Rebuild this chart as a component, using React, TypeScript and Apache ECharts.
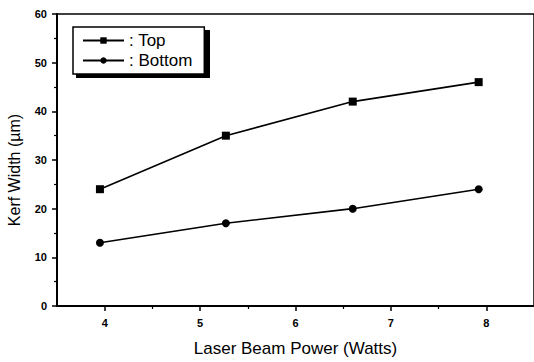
import React, { useEffect, useRef } from "react";
import * as echarts from "echarts";

const power = [3.95, 5.27, 6.6, 7.92];
const topWidth = [24, 35, 42, 46];
const bottomWidth = [13, 17, 20, 24];
const seriesNames = ["Top", "Bottom"];
const xMajorTicks = [4, 5, 6, 7, 8];
const xMinorTicks = [4.5, 5.5, 6.5, 7.5];
const xTitle = "Laser Beam Power (Watts)";
const yTitle = "Kerf Width (\u00b5m)";

const FONT = "Liberation Sans, Arial, Helvetica, sans-serif";

export default function App() {
  const ref = useRef<HTMLDivElement>(null);
  useEffect(() => {
    if (!ref.current) return;
    const chart = echarts.init(ref.current, null, { renderer: "svg" });
    const black = "#000";
    chart.setOption({
      animation: false,
      backgroundColor: "#fff",
      textStyle: { fontFamily: FONT },
      grid: {
        left: 57,
        top: 14,
        right: -4,
        bottom: 49,
        show: true,
        borderColor: black,
        borderWidth: 1.5,
        backgroundColor: "transparent",
      },
      legend: {
        orient: "vertical",
        left: 73,
        top: 27,
        z: 10,
        data: seriesNames,
        formatter: (n: string) => ": " + n,
        backgroundColor: "#fff",
        borderColor: black,
        borderWidth: 1.5,
        borderRadius: 0,
        padding: [5, 12, 5, 9],
        itemWidth: 41,
        itemHeight: 8,
        itemGap: 3,
        textStyle: { fontSize: 17, color: black, fontFamily: FONT },
      },
      graphic: [
        {
          type: "rect",
          z: 1,
          shape: { x: 76, y: 30, width: 134, height: 48 },
          style: { fill: black },
        },
        {
          type: "text",
          x: 14,
          y: 170,
          rotation: Math.PI / 2,
          style: {
            text: yTitle,
            fontSize: 16,
            fontFamily: FONT,
            fill: black,
            align: "center",
            verticalAlign: "middle",
          },
        },
      ],
      xAxis: [
        {
          type: "value",
          min: 3.5,
          max: 8.5,
          position: "bottom",
          name: xTitle,
          nameLocation: "middle",
          nameGap: 34,
          nameTextStyle: { fontSize: 17, color: black, fontFamily: FONT },
          axisLine: { show: true, lineStyle: { color: black, width: 2 } },
          axisTick: {
            show: true,
            customValues: xMajorTicks,
            length: 5,
            lineStyle: { color: black, width: 1.5 },
          },
          axisLabel: {
            customValues: xMajorTicks,
            margin: 11,
            fontSize: 11,
            fontWeight: "bold",
            color: black,
            fontFamily: FONT,
          },
          splitLine: { show: false },
        },
        {
          type: "value",
          min: 3.5,
          max: 8.5,
          position: "bottom",
          axisLine: { show: false },
          axisTick: {
            show: true,
            customValues: xMinorTicks,
            length: 3,
            lineStyle: { color: black, width: 1.2 },
          },
          axisLabel: { show: false },
          splitLine: { show: false },
        },
      ],
      yAxis: {
        type: "value",
        min: 0,
        max: 60,
        interval: 10,
        axisLine: { show: true, lineStyle: { color: black, width: 2 } },
        axisTick: { show: true, length: 5, lineStyle: { color: black, width: 1.5 } },
        minorTick: { show: true, splitNumber: 2, length: 3, lineStyle: { color: black, width: 1.2 } },
        axisLabel: {
          margin: 10,
          fontSize: 11,
          fontWeight: "bold",
          color: black,
          fontFamily: FONT,
        },
        splitLine: { show: false },
        minorSplitLine: { show: false },
      },
      series: [
        {
          name: seriesNames[0],
          type: "line",
          data: power.map((x, i) => [x, topWidth[i]]),
          symbol: "rect",
          symbolSize: 8,
          lineStyle: { color: black, width: 1.6 },
          itemStyle: { color: black },
        },
        {
          name: seriesNames[1],
          type: "line",
          data: power.map((x, i) => [x, bottomWidth[i]]),
          symbol: "circle",
          symbolSize: 8,
          lineStyle: { color: black, width: 1.6 },
          itemStyle: { color: black },
        },
      ],
    });
    return () => chart.dispose();
  }, []);
  return (
    <div
      ref={ref}
      style={{ position: "fixed", left: 0, top: 0, width: 534, height: 362, background: "#fff" }}
    />
  );
}
